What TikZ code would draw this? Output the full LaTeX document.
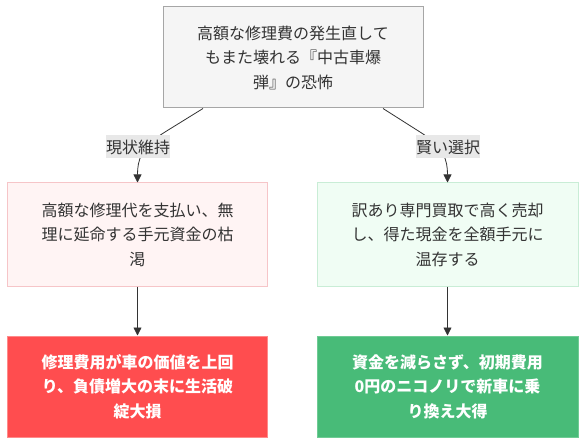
\documentclass[tikz,border=0pt]{standalone}
\usepackage{fontspec}
\newfontfamily\cjk{Noto Sans CJK JP}
\usetikzlibrary{arrows.meta}
\definecolor{txt}{HTML}{333333}
\definecolor{topfill}{HTML}{F5F5F5}
\definecolor{topdraw}{HTML}{A6A6A6}
\definecolor{pinkfill}{HTML}{FFF4F4}
\definecolor{pinkdraw}{HTML}{F6C5C8}
\definecolor{mintfill}{HTML}{F0FDF4}
\definecolor{mintdraw}{HTML}{C9EDD6}
\definecolor{redfill}{HTML}{FF4D4F}
\definecolor{reddraw}{HTML}{FF8A8A}
\definecolor{grnfill}{HTML}{48BB78}
\definecolor{grndraw}{HTML}{6FCB94}
\definecolor{lblfill}{HTML}{E8E8E8}
\definecolor{edge}{HTML}{333333}
\tikzset{
  box/.style={rectangle, inner sep=0pt, align=center, text=txt,
    font=\cjk\fontsize{16}{24.5}\selectfont, line width=1pt},
  conn/.style={draw=edge, line width=0.8pt, -{Triangle[length=8pt,width=8pt]}},
  elabel/.style={fill=lblfill, inner sep=0pt, minimum height=23pt, text=txt,
    font=\cjk\fontsize{16}{20}\selectfont, text depth=0pt}
}
\begin{document}
\begin{tikzpicture}[x=1pt,y=-1pt]
\useasboundingbox (0,0) rectangle (586,446);
\fill[white] (0,0) rectangle (586,446);

\node[box, fill=topfill, draw=topdraw, minimum width=260pt, minimum height=101pt]
  (top) at (293,57.5) {高額な修理費の発生直して\\もまた壊れる『中古車爆\\弾』の恐怖};

\node[box, fill=pinkfill, draw=pinkdraw, minimum width=260pt, minimum height=103pt]
  (lmid) at (137.5,234.5) {高額な修理代を支払い、無\\理に延命する手元資金の枯\\渇};
\node[box, fill=mintfill, draw=mintdraw, minimum width=261pt, minimum height=103pt]
  (rmid) at (447.5,234.5) {訳あり専門買取で高く売却\\し、得た現金を全額手元に\\温存する};

\node[box, fill=redfill, draw=reddraw, text=white, font=\cjk\bfseries\fontsize{16}{24.5}\selectfont,
  minimum width=260pt, minimum height=101pt]
  (lbot) at (137.5,386.5) {修理費用が車の価値を上回\\り、負債増大の末に生活破\\綻大損};
\node[box, fill=grnfill, draw=grndraw, text=white, font=\cjk\bfseries\fontsize{16}{24.5}\selectfont,
  minimum width=261pt, minimum height=101pt]
  (rbot) at (447.5,386.5) {資金を減らさず、初期費用\\0円のニコノリで新車に乗\\り換え大得};

% edges from top to middle boxes
\coordinate (lstart) at ([xshift=-90pt]top.south);
\coordinate (rstart) at ([xshift=90pt]top.south);
\draw[conn] (lstart) -- (165,132) .. controls (141,147) and (137.5,160) .. (lmid.north);
\draw[conn] (rstart) -- (420,132) .. controls (444,147) and (447.5,160) .. (rmid.north);
\node[elabel] (l1) at (138,146.5) {現状維持};
\node[elabel] (l2) at (448,146.5) {賢い選択};

% edges from middle to bottom boxes
\draw[conn] (lmid.south) -- (lbot.north);
\draw[conn] (rmid.south) -- (rbot.north);
\end{tikzpicture}
\end{document}
